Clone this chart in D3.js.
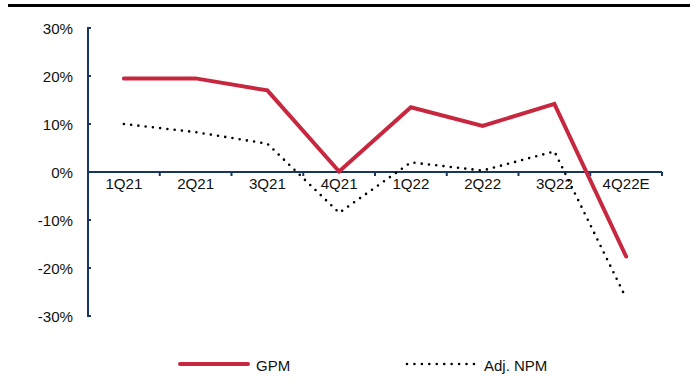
<!DOCTYPE html>
<html>
<head>
<meta charset="utf-8">
<script src="https://cdn.jsdelivr.net/npm/d3@7"></script>
<style>
  body { margin: 0; background: #fff; }
  svg text { font-family: "Liberation Sans", Arial, sans-serif; fill: #111; }
</style>
</head>
<body>
<svg id="chart" width="696" height="390"></svg>
<script>
// chart data
var quarters = ["1Q21", "2Q21", "3Q21", "4Q21", "1Q22", "2Q22", "3Q22", "4Q22E"];
var gpm = [19.5, 19.5, 17.0, 0.1, 13.5, 9.6, 14.2, -17.6];
var adjNpm = [10.0, 8.3, 5.9, -8.5, 2.0, 0.3, 4.3, -26.3];
var yTicks = [-30, -20, -10, 0, 10, 20, 30];

var svg = d3.select("svg#chart"),
    width = +svg.attr("width"),
    height = +svg.attr("height");

var axisColor = "#17375e",
    gpmColor = "#c8283f",
    stretch = 1.08; // axis labels look a little wide in the original

// top rule
svg.append("rect")
    .attr("x", 8).attr("y", 4)
    .attr("width", 682).attr("height", 3)
    .attr("fill", "#000");

var x = d3.scaleBand().domain(quarters).range([88, 662]);
var y = d3.scaleLinear().domain([-30, 30]).range([316, 28]);

var g = svg.append("g");

// y axis
g.append("line")
    .attr("x1", 88).attr("x2", 88)
    .attr("y1", y(30)).attr("y2", y(-30))
    .attr("stroke", axisColor).attr("stroke-width", 2);

g.selectAll(".ytick")
    .data(yTicks)
    .enter().append("line")
    .attr("x1", 87).attr("x2", 91)
    .attr("y1", function(d) { return y(d); })
    .attr("y2", function(d) { return y(d); })
    .attr("stroke", axisColor).attr("stroke-width", 2);

g.selectAll(".ylab")
    .data(yTicks)
    .enter().append("text")
    .attr("transform", function(d) { return "translate(73," + (y(d) + 6) + ") scale(" + stretch + ",1)"; })
    .attr("text-anchor", "end")
    .style("font-size", "14px")
    .text(function(d) { return d + "%"; });

// x axis at zero
var bounds = quarters.map(function(q) { return x(q); }).concat([x.range()[1]]);

g.append("line")
    .attr("x1", 88).attr("x2", 662)
    .attr("y1", y(0)).attr("y2", y(0))
    .attr("stroke", axisColor).attr("stroke-width", 2);

g.selectAll(".xtick")
    .data(bounds)
    .enter().append("line")
    .attr("x1", function(d) { return d; })
    .attr("x2", function(d) { return d; })
    .attr("y1", y(0)).attr("y2", y(0) + 4)
    .attr("stroke", axisColor).attr("stroke-width", 2);

g.selectAll(".xlab")
    .data(quarters)
    .enter().append("text")
    .attr("transform", function(d) { return "translate(" + (x(d) + x.bandwidth() / 2) + "," + (y(0) + 17) + ") scale(" + stretch + ",1)"; })
    .attr("text-anchor", "middle")
    .style("font-size", "14px")
    .text(function(d) { return d; });

// lines
var line = d3.line()
    .x(function(d, i) { return x(quarters[i]) + x.bandwidth() / 2; })
    .y(function(d) { return y(d); });

g.append("path")
    .datum(adjNpm)
    .attr("d", line)
    .attr("fill", "none")
    .attr("stroke", "#000")
    .attr("stroke-width", 2.6)
    .attr("stroke-linecap", "round")
    .attr("stroke-dasharray", "0,7.3");

g.append("path")
    .datum(gpm)
    .attr("d", line)
    .attr("fill", "none")
    .attr("stroke", gpmColor)
    .attr("stroke-width", 4)
    .attr("stroke-linecap", "round")
    .attr("stroke-linejoin", "miter");

// legend
var legend = svg.append("g");
legend.append("line")
    .attr("x1", 180).attr("x2", 248)
    .attr("y1", 364).attr("y2", 364)
    .attr("stroke", gpmColor).attr("stroke-width", 4)
    .attr("stroke-linecap", "round");
legend.append("text")
    .attr("x", 256).attr("y", 371)
    .style("font-size", "15px")
    .text("GPM");

legend.append("line")
    .attr("x1", 407).attr("x2", 474)
    .attr("y1", 364).attr("y2", 364)
    .attr("stroke", "#000").attr("stroke-width", 2.6)
    .attr("stroke-linecap", "round")
    .attr("stroke-dasharray", "0,7.44");
legend.append("text")
    .attr("x", 484).attr("y", 371)
    .style("font-size", "15px")
    .text("Adj. NPM");
</script>
</body>
</html>
